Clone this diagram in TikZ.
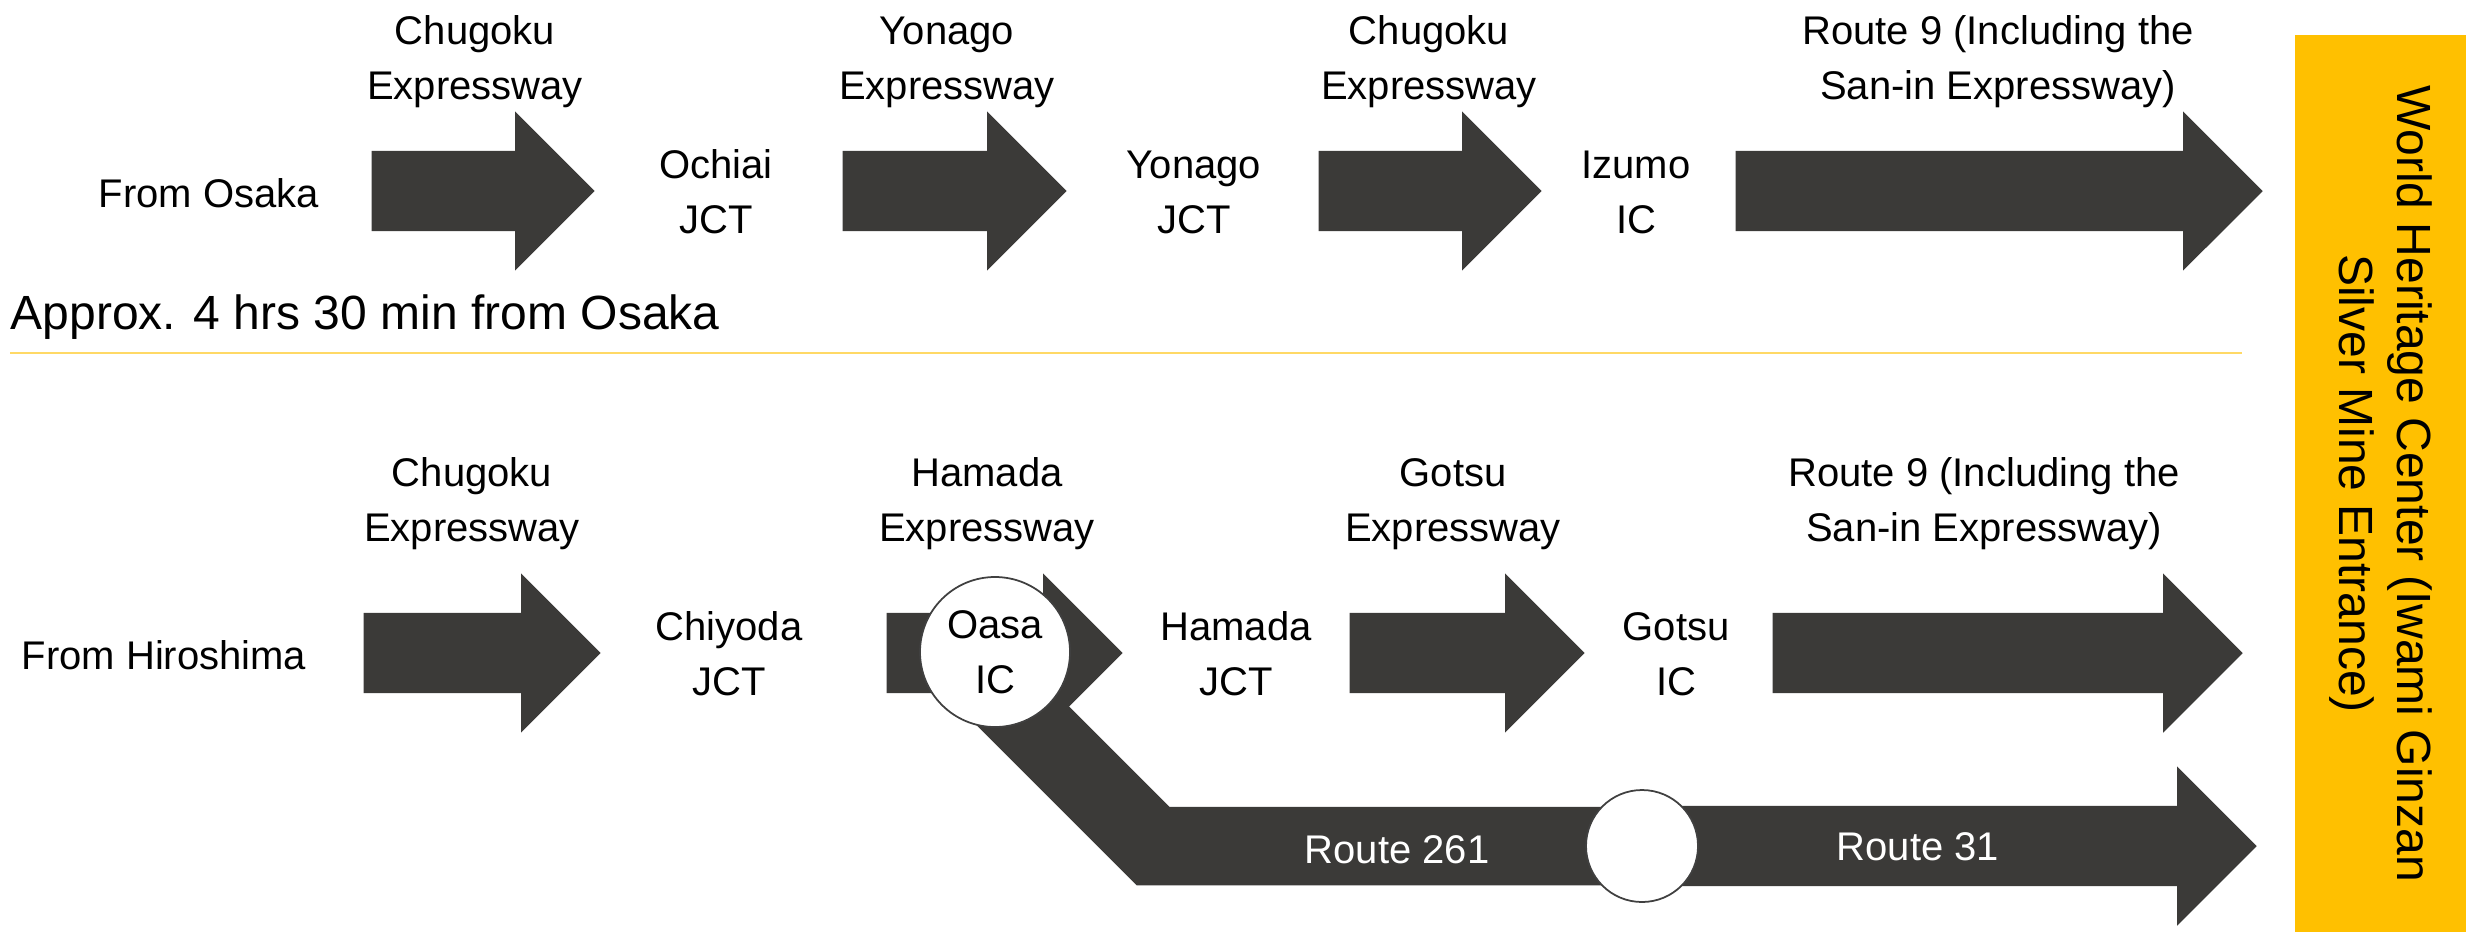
\documentclass[tikz,border=0pt]{standalone}
\usepackage{fontspec}
\setmainfont{Liberation Sans}
\usetikzlibrary{shapes.arrows,positioning}
\definecolor{roadgray}{RGB}{59,58,56}
\definecolor{gold}{RGB}{255,192,0}
\definecolor{lightgold}{RGB}{255,217,102}
\definecolor{ringgray}{RGB}{64,64,64}

\begin{document}
\begin{tikzpicture}[
	road/.style={single arrow, fill=roadgray, inner sep=0pt, text height=0.79cm, text depth=0pt, single arrow head extend=0.395cm, anchor=tail},
	lbl/.style={align=center, font=\fontsize{11.38pt}{15.65pt}\selectfont},
	big/.style={font=\fontsize{13.66pt}{16.5pt}\selectfont},
	stop/.style={circle, draw=ringgray, line width=0.5pt, fill=white, inner sep=0pt, lbl},
]
	\useasboundingbox (0,0) rectangle (24.69,-9.35);

	% from Osaka
	\node[road, minimum height=2.23cm] (a1) at (3.71,-1.91) {};
	\node[road, minimum height=2.24cm] (a2) at (8.42,-1.91) {};
	\node[road, minimum height=2.23cm] (a3) at (13.18,-1.91) {};
	\node[road, minimum height=5.27cm] (a4) at (17.35,-1.91) {};

	\node[lbl] (ea1) at (4.75,-0.62) {Chugoku\\Expressway};
	\node[lbl] (ea2) at (9.47,-0.62) {Yonago\\Expressway};
	\node[lbl] (ea3) at (14.29,-0.62) {Chugoku\\Expressway};
	\node[lbl] (ea4) at (19.98,-0.62) {Route 9 (Including the\\San-in Expressway)};

	\node[lbl] (osaka) at (2.09,-1.93) {From Osaka};
	\node[lbl] (sa1) at (7.16,-1.92) {Ochiai\\JCT};
	\node[lbl] (sa2) at (11.94,-1.92) {Yonago\\JCT};
	\node[lbl] (sa3) at (16.36,-1.92) {Izumo\\IC};

	\node[big, anchor=base west, inner sep=0pt] (time) at (0.10,-3.29) {Approx. 4 hrs 30 min from Osaka};
	\coordinate (sepl) at (0.10,-3.53);
	\coordinate (sepr) at (22.42,-3.53);
	\draw[lightgold, line width=0.6pt] (sepl) -- (sepr);

	% from Hiroshima
	\node[road, minimum height=2.37cm] (b1) at (3.63,-6.53) {};
	\node[road, minimum height=6.14cm] (r31) at (16.42,-8.46) {};
	\coordinate (ramp) at (9.80,-6.73);
	\coordinate (bend) at (11.53,-8.46);
	\draw[roadgray, line width=0.785cm, line join=miter] (ramp) -- (bend) -- (r31.tail);
	\node[road, minimum height=2.36cm] (b2) at (8.86,-6.53) {};
	\node[road, minimum height=2.35cm] (b3) at (13.49,-6.53) {};
	\node[road, minimum height=4.70cm] (b4) at (17.72,-6.53) {};

	\node[lbl] (eb1) at (4.72,-5.04) {Chugoku\\Expressway};
	\node[lbl] (eb2) at (9.87,-5.04) {Hamada\\Expressway};
	\node[lbl] (eb3) at (14.53,-5.04) {Gotsu\\Expressway};
	\node[lbl] (eb4) at (19.84,-5.04) {Route 9 (Including the\\San-in Expressway)};

	\node[lbl] (hiroshima) at (1.64,-6.55) {From Hiroshima};
	\node[lbl] (sb1) at (7.29,-6.54) {Chiyoda\\JCT};
	\node[stop, minimum size=1.50cm] (oasa) at (9.95,-6.52) {Oasa\\IC};
	\node[lbl] (sb2) at (12.36,-6.54) {Hamada\\JCT};
	\node[lbl] (sb3) at (16.76,-6.54) {Gotsu\\IC};

	\node[stop, minimum size=1.12cm] (via) at (16.42,-8.46) {};
	\node[lbl, text=white] (l261) at (13.97,-8.50) {Route 261};
	\node[lbl, text=white] (l31) at (19.18,-8.47) {Route 31};

	% goal
	\node[big, fill=gold, rotate=-90, align=center, minimum width=8.97cm, minimum height=1.71cm] (goal) at (23.805,-4.835) {World Heritage Center (Iwami Ginzan\\Silver Mine Entrance)};

\end{tikzpicture}
\end{document}
